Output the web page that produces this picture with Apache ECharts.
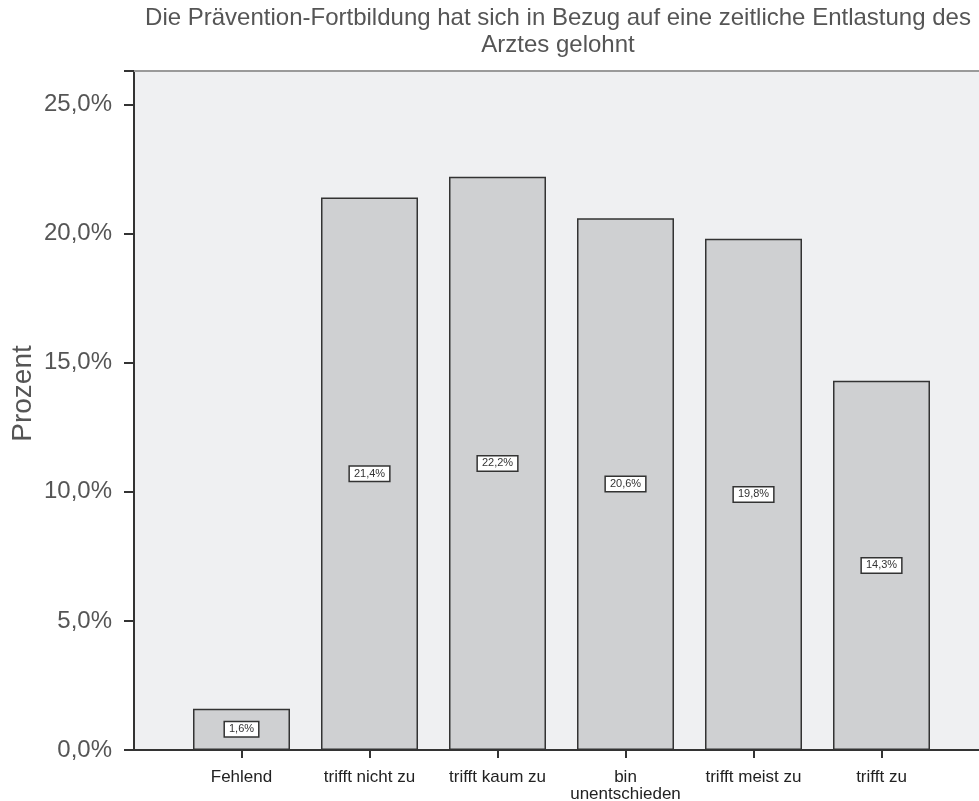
<!DOCTYPE html>
<html>
<head>
<meta charset="utf-8">
<script src="https://cdn.jsdelivr.net/npm/echarts@6/dist/echarts.min.js"></script>
<style>
  html, body { margin: 0; padding: 0; background: #ffffff; }
  #chart { width: 979px; height: 801px; }
</style>
</head>
<body>
<div id="chart"></div>
<script>
// Antworten auf die Aussage und ihr Anteil in Prozent
const categories = ['Fehlend', 'trifft nicht zu', 'trifft kaum zu', 'bin\nunentschieden', 'trifft meist zu', 'trifft zu'];
const percentValues = [1.6, 21.4, 22.2, 20.6, 19.8, 14.3];
const yTicks = [0, 5, 10, 15, 20, 25];

const titleText = 'Die Prävention-Fortbildung hat sich in Bezug auf eine zeitliche Entlastung des\nArztes gelohnt';
const fontFamily = '"Liberation Sans", Arial, Helvetica, sans-serif';

const fmtPct = v => v.toFixed(1).replace('.', ',') + '%';

const chart = echarts.init(document.getElementById('chart'), null, { renderer: 'canvas' });

const yMin = 0, yMax = 26.3;

chart.setOption({
  animation: false,
  backgroundColor: '#ffffff',
  title: {
    text: titleText,
    left: 553,
    top: 0,
    textAlign: 'center',
    textStyle: {
      fontFamily: fontFamily,
      fontSize: 24,
      fontWeight: 'normal',
      color: '#555555',
      lineHeight: 27
    }
  },
  grid: [
    // frame and background of the plot area
    { left: 134, top: 71, width: 853, height: 679, show: true, backgroundColor: '#eff0f2', borderWidth: 0, outerBoundsMode: 'none', containLabel: false },
    // bars, inset from the frame on both sides
    { left: 177.5, top: 71, width: 768, height: 679, outerBoundsMode: 'none', containLabel: false }
  ],
  xAxis: [
    {
      gridIndex: 0, type: 'value', min: 0, max: 1, position: 'bottom',
      axisLine: { show: true, lineStyle: { color: '#333333', width: 2 } },
      axisTick: { show: false }, axisLabel: { show: false }, splitLine: { show: false }
    },
    {
      gridIndex: 0, type: 'value', min: 0, max: 1, position: 'top',
      axisLine: { show: true, lineStyle: { color: '#9a9a9a', width: 2 } },
      axisTick: { show: false }, axisLabel: { show: false }, splitLine: { show: false }
    },
    {
      gridIndex: 1, type: 'category', data: categories, position: 'bottom',
      axisLine: { show: false },
      axisTick: { show: true, alignWithLabel: true, length: 8, lineStyle: { color: '#333333', width: 2 } },
      axisLabel: {
        show: true, interval: 0, margin: 19,
        fontFamily: fontFamily, fontSize: 17, color: '#222222', lineHeight: 17
      }
    }
  ],
  yAxis: [
    {
      gridIndex: 0, type: 'value', min: yMin, max: yMax, interval: 5,
      name: 'Prozent', nameLocation: 'middle', nameGap: 97, nameRotate: 90, nameMoveOverlap: false,
      nameTextStyle: { fontFamily: fontFamily, fontSize: 28, color: '#555555', padding: [0, 0, 0, 34] },
      axisLine: { show: true, lineStyle: { color: '#333333', width: 2 } },
      axisTick: { show: true, inside: false, length: 10, lineStyle: { color: '#333333', width: 2 } },
      axisLabel: {
        margin: 22, fontFamily: fontFamily, fontSize: 24, color: '#555555',
        formatter: v => (yTicks.indexOf(v) >= 0 ? fmtPct(v) : '')
      },
      splitLine: { show: false }
    },
    {
      gridIndex: 1, type: 'value', min: yMin, max: yMax, interval: 5,
      axisLine: { show: false }, axisTick: { show: false }, axisLabel: { show: false }, splitLine: { show: false }
    }
  ],
  series: [
    {
      type: 'bar',
      xAxisIndex: 2,
      yAxisIndex: 1,
      data: percentValues,
      barWidth: 97,
      itemStyle: { color: '#cfd0d2', borderColor: '#333333', borderWidth: 1.5 },
      label: {
        show: true,
        position: 'inside',
        formatter: p => fmtPct(p.value),
        fontFamily: fontFamily,
        fontSize: 11,
        color: '#333333',
        backgroundColor: '#ffffff',
        borderColor: '#333333',
        borderWidth: 1.5,
        padding: [2, 4, 1, 4]
      }
    }
  ]
});
</script>
</body>
</html>
